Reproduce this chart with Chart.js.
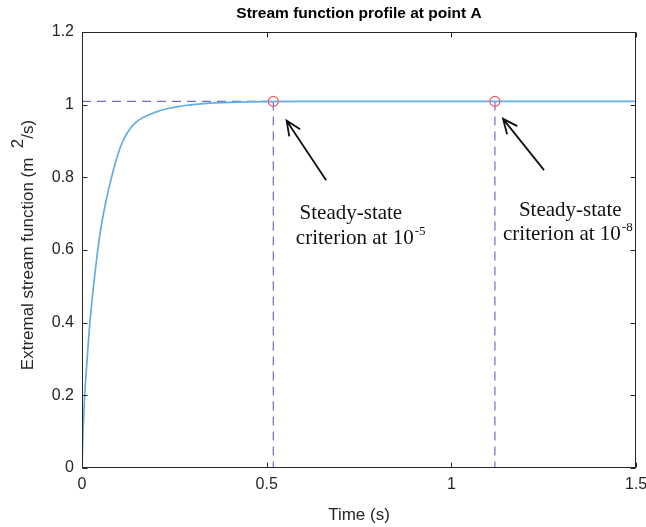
<!DOCTYPE html>
<html>
<head>
<meta charset="utf-8">
<script src="https://cdn.jsdelivr.net/npm/chart.js@4/dist/chart.umd.min.js"></script>
<style>
  body { margin: 0; background: #fff; }
  canvas { display: block; }
</style>
</head>
<body>
<canvas id="chartStream" width="646" height="527"></canvas>
<script>
// values
const timeS = [0, 0.0025, 0.005, 0.0075, 0.01, 0.015, 0.02, 0.025, 0.03, 0.035, 0.04, 0.045, 0.05, 0.06, 0.07, 0.08, 0.09, 0.1, 0.11, 0.12, 0.13, 0.14, 0.15, 0.16, 0.175, 0.19, 0.205, 0.22, 0.24, 0.26, 0.28, 0.3, 0.33, 0.36, 0.4, 0.45, 0.5, 0.6, 0.8, 1.1, 1.5]
const streamFn = [0, 0.09, 0.15, 0.205, 0.245, 0.315, 0.385, 0.44, 0.49, 0.535, 0.578, 0.618, 0.653, 0.71, 0.758, 0.8, 0.839, 0.872, 0.898, 0.918, 0.934, 0.946, 0.9548, 0.9616, 0.9694, 0.9759, 0.9814, 0.9859, 0.9908, 0.9947, 0.9977, 1.0001, 1.0028, 1.0047, 1.0063, 1.0075, 1.0082, 1.0088, 1.009, 1.009, 1.009]
const steadyValue = 1.009
const criterionTimes = [0.518, 1.118]
const criterionExp = ['-5', '-8']
const xTicks = [0, 0.5, 1, 1.5]
const yTicks = [0, 0.2, 0.4, 0.6, 0.8, 1, 1.2]

const ctx = document.getElementById('chartStream').getContext('2d')

const dashStyle = {
  borderColor: '#6e6ec8',
  borderWidth: 1.2,
  borderDash: [9, 6],
  pointRadius: 0,
  fill: false
}

// annotation layout, in data units
const notes = [
  { tail: [0.661, 0.792], tip: [0.554, 0.956], head: [0.728, 0.685], line2: [0.579, 0.616] },
  { tail: [1.251, 0.82], tip: [1.14, 0.961], head: [1.322, 0.693], line2: [1.14, 0.627] }
]
const noteSize = 21

const annotate = {
  id: 'annotate',
  afterDraw (chart) {
    const c = chart.ctx
    const a = chart.chartArea
    const x = chart.scales.x
    const y = chart.scales.y
    c.save()

    // arrows and texts
    c.strokeStyle = '#111'
    c.fillStyle = '#111'
    c.lineWidth = 1.8
    notes.forEach((n, i) => {
      const x1 = x.getPixelForValue(n.tail[0])
      const y1 = y.getPixelForValue(n.tail[1])
      const x2 = x.getPixelForValue(n.tip[0])
      const y2 = y.getPixelForValue(n.tip[1])
      c.beginPath()
      c.moveTo(x1, y1)
      c.lineTo(x2, y2)
      const ang = Math.atan2(y2 - y1, x2 - x1)
      const hl = 16
      c.moveTo(x2 - hl * Math.cos(ang - 0.42), y2 - hl * Math.sin(ang - 0.42))
      c.lineTo(x2, y2)
      c.lineTo(x2 - hl * Math.cos(ang + 0.42), y2 - hl * Math.sin(ang + 0.42))
      c.stroke()

      c.font = noteSize + 'px "Liberation Serif", "Times New Roman", serif'
      c.textAlign = 'center'
      c.textBaseline = 'alphabetic'
      c.fillText('Steady-state', x.getPixelForValue(n.head[0]), y.getPixelForValue(n.head[1]))
      c.textAlign = 'left'
      const lx = x.getPixelForValue(n.line2[0])
      const ly = y.getPixelForValue(n.line2[1])
      const base = 'criterion at 10'
      c.fillText(base, lx, ly)
      const w = c.measureText(base).width
      c.font = Math.round(noteSize * 0.62) + 'px "Liberation Serif", "Times New Roman", serif'
      c.fillText(criterionExp[i], lx + w + 1, ly - noteSize * 0.42)
    })

    // box and inward ticks
    c.strokeStyle = '#262626'
    c.lineWidth = 1
    const L = Math.round(a.left) + 0.5
    const R = Math.round(a.right) - 0.5
    const T = Math.round(a.top) + 0.5
    const B = Math.round(a.bottom) - 0.5
    c.strokeRect(L, T, R - L, B - T)
    c.beginPath()
    xTicks.forEach((v) => {
      const px = Math.round(x.getPixelForValue(v)) + 0.5
      c.moveTo(px, B); c.lineTo(px, B - 5)
      c.moveTo(px, T); c.lineTo(px, T + 5)
    })
    yTicks.forEach((v) => {
      const py = Math.round(y.getPixelForValue(v)) + 0.5
      c.moveTo(L, py); c.lineTo(L + 5, py)
      c.moveTo(R, py); c.lineTo(R - 5, py)
    })
    c.stroke()

    // y axis title with raised 2
    c.fillStyle = '#262626'
    c.font = '17px "Liberation Sans", Arial, sans-serif'
    c.textBaseline = 'middle'
    c.textAlign = 'left'
    const p1 = 'Extremal stream function (m  '
    const p2 = '2'
    const p3 = '/s)'
    const w1 = c.measureText(p1).width
    const w2 = c.measureText(p2).width
    const w3 = c.measureText(p3).width
    c.translate(28, (a.top + a.bottom) / 2 - 5)
    c.rotate(-Math.PI / 2)
    const sx = -(w1 + w2 + w3) / 2
    c.fillText(p1, sx, 0)
    c.fillText(p2, sx + w1, -10)
    c.fillText(p3, sx + w1 + w2, 0)
    c.setTransform(1, 0, 0, 1, 0, 0)

    // title
    c.fillStyle = '#000'
    c.font = 'bold 15.5px "Liberation Sans", Arial, sans-serif'
    c.textAlign = 'center'
    c.textBaseline = 'middle'
    c.fillText('Stream function profile at point A', (a.left + a.right) / 2, 14)
    c.restore()
  }
}

const tickFont = { family: '"Liberation Sans", Arial, sans-serif', size: 16 }

const chartStream = new Chart(ctx, {
  type: 'line',
  data: {
    datasets: [
      {
        label: 'criterion',
        data: criterionTimes.map((t) => ({ x: t, y: steadyValue })),
        showLine: false,
        pointRadius: 5,
        pointBorderWidth: 1.2,
        pointBorderColor: '#f05a5a',
        pointBackgroundColor: 'rgba(0,0,0,0)'
      },
      {
        label: 'stream',
        data: timeS.map((t, i) => ({ x: t, y: streamFn[i] })),
        borderColor: '#62aee2',
        borderWidth: 1.7,
        pointRadius: 0,
        cubicInterpolationMode: 'monotone',
        fill: false
      },
      {
        label: 'h',
        data: [{ x: 0, y: steadyValue }, { x: criterionTimes[0], y: steadyValue }],
        ...dashStyle
      },
      {
        label: 'v1',
        data: [{ x: criterionTimes[0], y: steadyValue }, { x: criterionTimes[0], y: 0 }],
        ...dashStyle
      },
      {
        label: 'v2',
        data: [{ x: criterionTimes[1], y: steadyValue }, { x: criterionTimes[1], y: 0 }],
        ...dashStyle
      }
    ]
  },
  options: {
    responsive: false,
    animation: false,
    layout: { padding: { top: 32, right: 10, left: 0, bottom: 0 } },
    scales: {
      x: {
        type: 'linear',
        min: 0,
        max: 1.5,
        afterBuildTicks: (s) => { s.ticks = xTicks.map((v) => ({ value: v })) },
        afterFit: (s) => { s.height = 59; s.paddingLeft = 0; s.paddingRight = 0 },
        grid: { display: false, drawTicks: false },
        border: { display: false },
        ticks: { color: '#262626', font: tickFont, padding: 7, maxRotation: 0, callback: (v) => String(v) },
        title: {
          display: true,
          text: 'Time (s)',
          color: '#262626',
          font: { family: tickFont.family, size: 17 },
          padding: { top: 0, bottom: 1 }
        }
      },
      y: {
        min: 0,
        max: 1.2,
        afterBuildTicks: (s) => { s.ticks = yTicks.map((v) => ({ value: v })) },
        afterFit: (s) => { s.width = 82; s.paddingTop = 0; s.paddingBottom = 0 },
        grid: { display: false, drawTicks: false },
        border: { display: false },
        ticks: { color: '#262626', font: tickFont, padding: 8, callback: (v) => String(v) },
        title: { display: false }
      }
    },
    plugins: {
      legend: { display: false },
      tooltip: { enabled: false }
    }
  },
  plugins: [annotate]
})
</script>
</body>
</html>
